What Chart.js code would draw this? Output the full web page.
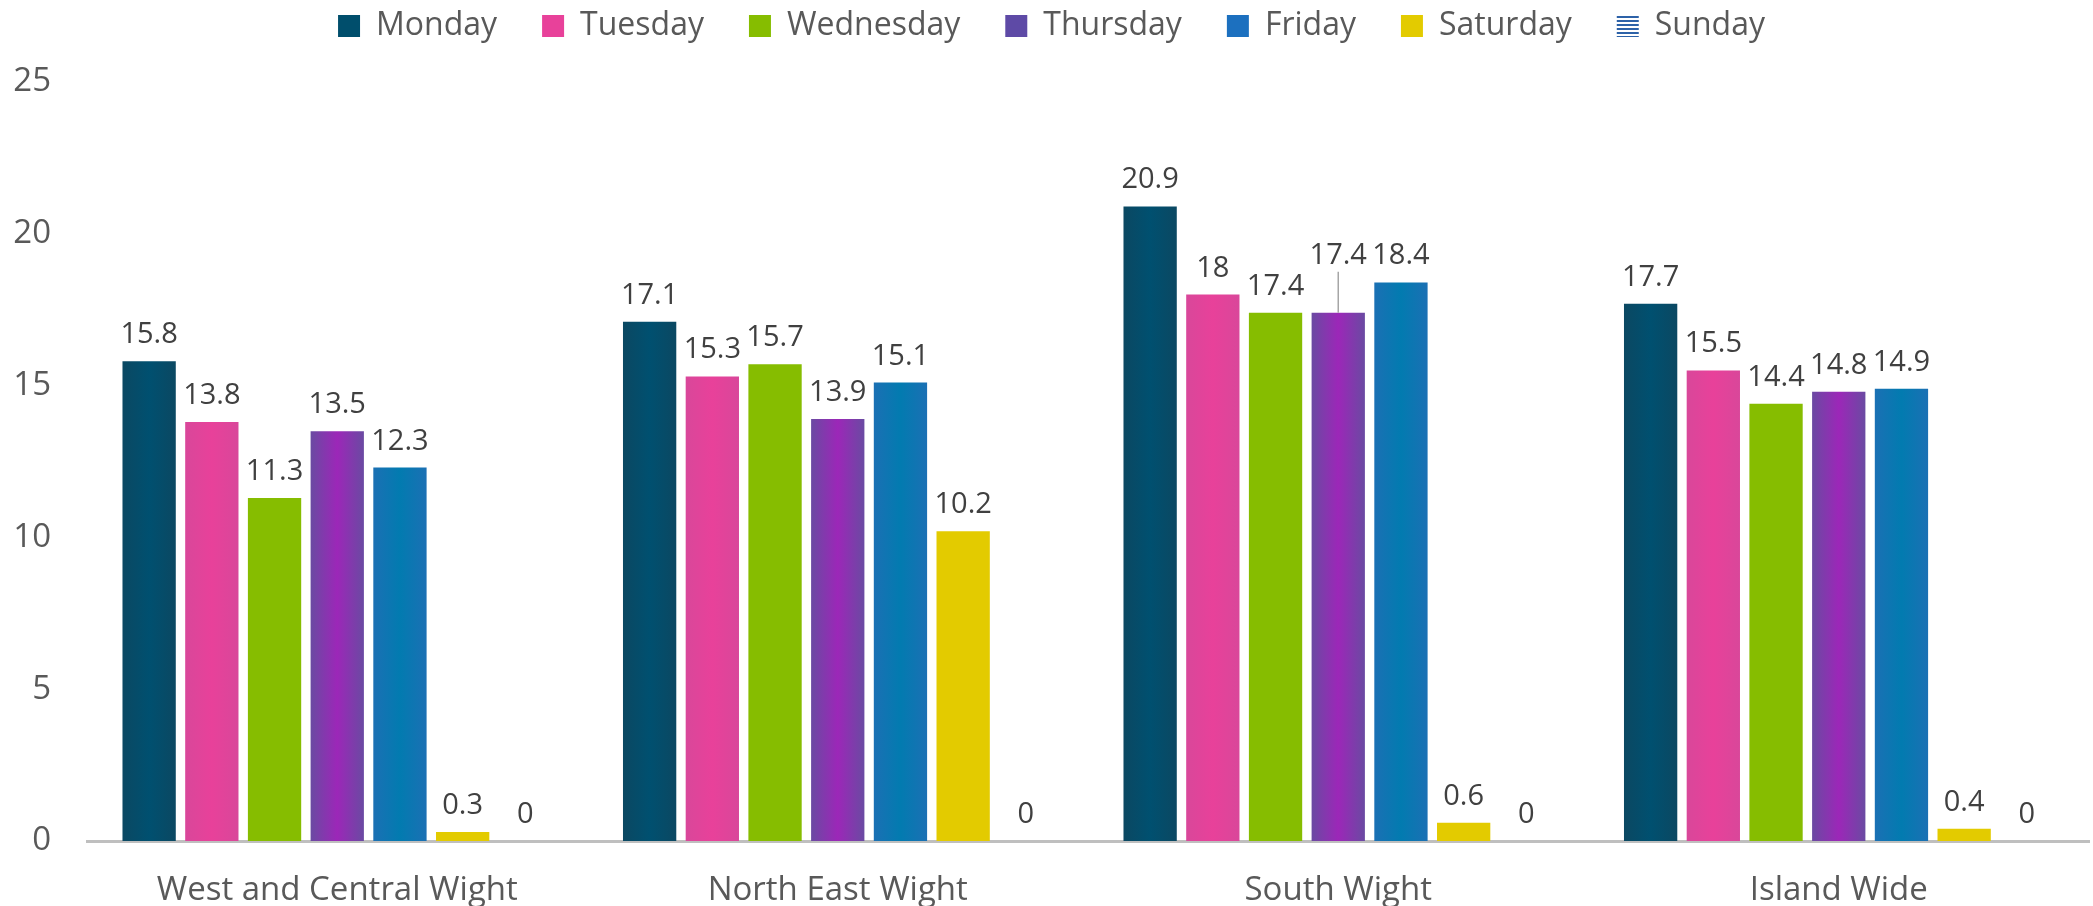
<!DOCTYPE html>
<html>
<head>
<meta charset="utf-8">
<script src="https://cdn.jsdelivr.net/npm/chart.js@4/dist/chart.umd.min.js"></script>
<style>
html,body{margin:0;padding:0;background:#fff}
#wrap{width:2093px;height:906px}
</style>
</head>
<body>
<div id="wrap"><canvas id="c"></canvas></div>
<script>
var areas=['West and Central Wight','North East Wight','South Wight','Island Wide']
var days=['Monday','Tuesday','Wednesday','Thursday','Friday','Saturday','Sunday']
var monday=[15.8,17.1,20.9,17.7]
var tuesday=[13.8,15.3,18,15.5]
var wednesday=[11.3,15.7,17.4,14.4]
var thursday=[13.5,13.9,17.4,14.8]
var friday=[12.3,15.1,18.4,14.9]
var saturday=[0.3,10.2,0.6,0.4]
var sunday=[0,0,0,0]
var yTicks=[0,5,10,15,20,25]

var FONT='"Open Sans", sans-serif'

// striped fill for Sunday (legend only shows it, bars are all 0)
function stripes(){
	var c=document.createElement('canvas')
	c.width=4;c.height=4
	var x=c.getContext('2d')
	x.fillStyle='#ffffff';x.fillRect(0,0,4,4)
	x.fillStyle='#2d62a8';x.fillRect(0,0,4,2)
	return x.createPattern(c,'repeat')
}

var ds=function(label,data,color,edge,center){
	return {label:label,data:data,backgroundColor:color,edgeColor:edge,centerColor:center,borderWidth:0}
}

// horizontal shading inside each bar, like the office-style bars
var barShade={
	id:'barShade',
	beforeDatasetDraw:function(chart,args){
		var d=chart.data.datasets[args.index]
		if(!d.edgeColor)return
		var ctx=chart.ctx
		args.meta.data.forEach(function(el){
			var l=el.x-el.width/2,r=el.x+el.width/2
			var g=ctx.createLinearGradient(l,0,r,0)
			g.addColorStop(0,d.edgeColor)
			g.addColorStop(0.5,d.centerColor)
			g.addColorStop(1,d.edgeColor)
			el.options=Object.assign({},el.options,{backgroundColor:g})
		})
	}
}

// value labels above bars
var valueLabels={
	id:'valueLabels',
	afterDatasetsDraw:function(chart,args,opts){
		var ctx=chart.ctx
		ctx.save()
		ctx.font='29px '+FONT
		ctx.fillStyle='#404040'
		ctx.textAlign='center'
		ctx.textBaseline='alphabetic'
		chart.data.datasets.forEach(function(d,i){
			var meta=chart.getDatasetMeta(i)
			meta.data.forEach(function(el,j){
				var lift=(opts.lift[i+'-'+j])||0
				var y=el.y-18-lift
				ctx.fillText(String(d.data[j]),el.x,y)
				if(lift){
					ctx.strokeStyle='#a6a6a6'
					ctx.lineWidth=1.5
					ctx.beginPath()
					ctx.moveTo(el.x,y+8)
					ctx.lineTo(el.x,el.y)
					ctx.stroke()
				}
			})
		})
		ctx.restore()
	}
}

var legendSpace={
	id:'legendSpace',
	beforeInit:function(chart){
		var fit=chart.legend.fit
		chart.legend.fit=function(){
			fit.bind(chart.legend)()
			this.height+=30
		}
	}
}

var chart=new Chart(document.getElementById('c'),{
	type:'bar',
	data:{
		labels:areas,
		datasets:[
			ds(days[0],monday,'#004e6c','#0b4862','#005070'),
			ds(days[1],tuesday,'#e8419a','#d9479a','#e8419a'),
			ds(days[2],wednesday,'#86bd00'),
			ds(days[3],thursday,'#5e4aa6','#6a4aa2','#9c27b8'),
			ds(days[4],friday,'#1c70bf','#1b70b4','#027bb0'),
			ds(days[5],saturday,'#e3cb00'),
			ds(days[6],sunday,stripes())
		]
	},
	options:{
		responsive:true,
		maintainAspectRatio:false,
		animation:false,
		categoryPercentage:0.877,
		barPercentage:0.85,
		layout:{padding:{left:14,right:4,top:-35,bottom:0}},
		plugins:{
			tooltip:{enabled:false},
			legend:{
				position:'top',
				labels:{
					boxWidth:22,boxHeight:22,padding:45,
					color:'#595959',
					font:{family:FONT,size:32}
				}
			},
			valueLabels:{lift:{'3-2':31}}
		},
		scales:{
			x:{
				grid:{display:false,drawTicks:false},
				border:{display:true,color:'#bfbfbf',width:3},
				ticks:{color:'#595959',padding:30,font:{family:FONT,size:33}},
				afterFit:function(axis){axis.height=65}
			},
			y:{
				min:0,max:25,
				afterBuildTicks:function(axis){axis.ticks=yTicks.map(function(v){return {value:v}})},
				grid:{display:false,drawTicks:false},
				border:{display:false},
				ticks:{color:'#595959',padding:36,font:{family:FONT,size:33}},
				afterFit:function(axis){axis.width=73}
			}
		}
	},
	plugins:[barShade,valueLabels,legendSpace]
})
</script>
</body>
</html>
